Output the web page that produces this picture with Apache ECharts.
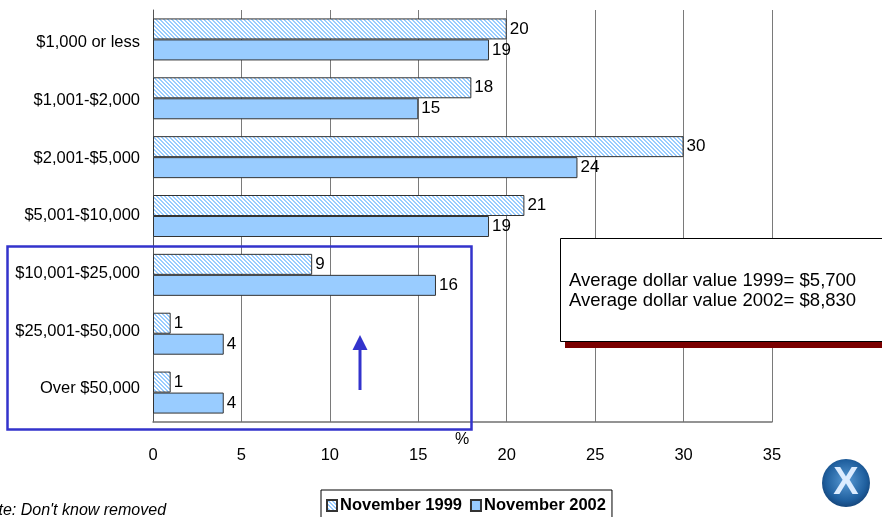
<!DOCTYPE html>
<html>
<head>
<meta charset="utf-8">
<script src="https://cdn.jsdelivr.net/npm/echarts@6/dist/echarts.min.js"></script>
<style>html,body{margin:0;padding:0;background:#fff;}#c{width:882px;height:517px;}</style>
</head>
<body>
<div id="c"></div>
<script>
var categories = ['$1,000 or less', '$1,001-$2,000', '$2,001-$5,000', '$5,001-$10,000', '$10,001-$25,000', '$25,001-$50,000', 'Over $50,000'];
var nov1999 = [20, 18, 30, 21, 9, 1, 1];
var nov2002 = [19, 15, 24, 19, 16, 4, 4];
var xTicks = {min: 0, max: 35, interval: 5};
var noteText = "Note: Don't know removed";
var boxLines = ['Average dollar value 1999= $5,700', 'Average dollar value 2002= $8,830'];

var FONT = 'Arial, "Liberation Sans", sans-serif';

// hatch pattern
var pc = document.createElement('canvas');
pc.width = 4; pc.height = 4;
var g = pc.getContext('2d');
g.fillStyle = '#ffffff'; g.fillRect(0, 0, 4, 4);
g.fillStyle = '#99ccff';
for (var i = 0; i < 4; i++) { g.fillRect(i, i, 1, 1); g.fillRect((i + 1) % 4, i, 1, 1); }

// category labels with slight vertical nudges (as in the original rendering)
var richStyles = {};
categories.forEach(function (c, i) {
  var off = 3.5 - 1.25 * i; // px, positive = down
  var pad = off >= 0 ? [2 * off, 0, 0, 0] : [0, 0, -2 * off, 0];
  richStyles['c' + i] = {fontSize: 16.5, color: '#000', fontFamily: FONT, padding: pad};
});

var chart = echarts.init(document.getElementById('c'));
var labelStyle = {show: true, position: 'right', distance: 3, color: '#000', fontSize: 17, fontFamily: FONT};
chart.setOption({
  animation: false,
  backgroundColor: '#fff',
  grid: {left: 153, right: 110, top: 10, bottom: 95, containLabel: false},
  legend: {
    left: 321, top: 490, padding: [7, 6, 6, 5],
    itemWidth: 10, itemHeight: 11, itemGap: 8,
    borderColor: '#000', borderWidth: 1, backgroundColor: '#fff',
    textStyle: {fontSize: 16.5, fontWeight: 'bold', color: '#000', fontFamily: FONT, padding: [0, 0, 0, -2]},
    data: [{name: 'November 1999', icon: 'rect'}, {name: 'November 2002', icon: 'rect'}]
  },
  xAxis: {
    type: 'value', min: xTicks.min, max: xTicks.max, interval: xTicks.interval,
    axisLine: {show: true, lineStyle: {color: '#707070', width: 1.5}},
    axisTick: {show: false},
    splitLine: {show: true, lineStyle: {color: '#7a7a7a', width: 1}},
    axisLabel: {margin: 25, fontSize: 16.5, color: '#000', fontFamily: FONT}
  },
  yAxis: {
    type: 'category', data: categories, inverse: true,
    axisLine: {show: true, lineStyle: {color: '#555', width: 1}},
    axisTick: {show: false},
    axisLabel: {margin: 13, fontSize: 16.5, color: '#000', fontFamily: FONT,
      formatter: function (v, idx) { return '{c' + idx + '|' + v + '}'; },
      rich: richStyles}
  },
  series: [
    {name: 'November 1999', type: 'bar', data: nov1999, barWidth: 21, barGap: '0%',
     itemStyle: {color: {image: pc, repeat: 'repeat'}, borderColor: '#333', borderWidth: 1},
     label: labelStyle},
    {name: 'November 2002', type: 'bar', data: nov2002, barWidth: 21,
     itemStyle: {color: '#99ccff', borderColor: '#333', borderWidth: 1},
     label: labelStyle}
  ],
  graphic: [
    {type: 'rect', shape: {x: 7.5, y: 246.5, width: 464, height: 183}, style: {fill: 'none', stroke: '#3333cc', lineWidth: 2.5}, z: 100},
    {type: 'rect', shape: {x: 358.5, y: 348, width: 3, height: 42}, style: {fill: '#3333cc'}, z: 100},
    {type: 'polygon', shape: {points: [[360, 335], [352.5, 350], [367.5, 350]]}, style: {fill: '#3333cc'}, z: 100},
    {type: 'text', x: 462, y: 440, style: {text: '%', font: '16px ' + FONT, fill: '#000', align: 'center', verticalAlign: 'middle'}, z: 100},
    {type: 'rect', shape: {x: 565, y: 243, width: 330, height: 105}, style: {fill: '#7a0000'}, z: 100},
    {type: 'rect', shape: {x: 560.5, y: 238.5, width: 330, height: 103}, style: {fill: '#fff', stroke: '#000', lineWidth: 1}, z: 101},
    {type: 'text', x: 569, y: 281, style: {text: boxLines[0], font: '18.5px ' + FONT, fill: '#000', verticalAlign: 'middle'}, z: 102},
    {type: 'text', x: 569, y: 301, style: {text: boxLines[1], font: '18.5px ' + FONT, fill: '#000', verticalAlign: 'middle'}, z: 102},
    {type: 'text', x: -22, y: 511, style: {text: noteText, font: 'italic 16px ' + FONT, fill: '#000', verticalAlign: 'middle'}, z: 100},
    {type: 'circle', shape: {cx: 846, cy: 483, r: 24},
     style: {fill: {type: 'radial', x: 0.5, y: 0.45, r: 0.6, colorStops: [{offset: 0, color: '#5a9bd5'}, {offset: 0.7, color: '#1f5f9e'}, {offset: 1, color: '#123e70'}]}}, z: 100},
    {type: 'text', x: 846, y: 484, style: {text: 'X', font: 'bold 38px ' + FONT, fill: '#dcecff', align: 'center', verticalAlign: 'middle'}, z: 101}
  ]
});
</script>
</body>
</html>
